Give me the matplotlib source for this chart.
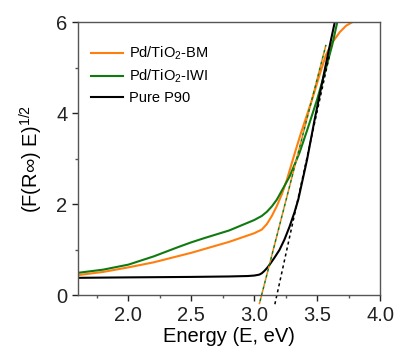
import numpy as np
import matplotlib
matplotlib.use("Agg")
import matplotlib.pyplot as plt
from matplotlib.ticker import MultipleLocator

plt.rcParams['font.family'] = ['Liberation Sans', 'DejaVu Sans']
plt.rcParams['mathtext.fontset'] = 'custom'
plt.rcParams['mathtext.rm'] = 'Liberation Sans'
plt.rcParams['mathtext.it'] = 'Liberation Sans:italic'

# Pd/TiO2-BM
e_bm = [1.6, 1.8, 2.0, 2.2, 2.4, 2.5, 2.6, 2.8, 3.0, 3.06, 3.1, 3.14, 3.18, 3.22, 3.26,
        3.32, 3.37, 3.46, 3.52, 3.57, 3.62, 3.68, 3.73, 3.78]
y_bm = [0.44, 0.51, 0.61, 0.72, 0.86, 0.93, 1.01, 1.17, 1.36, 1.44, 1.56, 1.74, 1.96, 2.22, 2.54,
        3.1, 3.55, 4.3, 4.85, 5.28, 5.55, 5.78, 5.92, 6.0]

# Pd/TiO2-IWI
e_iwi = [1.6, 1.8, 2.0, 2.2, 2.4, 2.5, 2.6, 2.8, 3.0, 3.06, 3.1, 3.14, 3.18, 3.22, 3.28,
         3.36, 3.42, 3.5, 3.56, 3.62, 3.66]
y_iwi = [0.49, 0.56, 0.67, 0.85, 1.06, 1.16, 1.25, 1.42, 1.65, 1.74, 1.83, 1.95, 2.1, 2.3, 2.6,
         3.13, 3.62, 4.3, 4.88, 5.5, 6.0]

# Pure P90
e_p90 = [1.6, 2.0, 2.5, 2.8, 2.95, 3.0, 3.04, 3.06, 3.08, 3.1, 3.12, 3.16, 3.2, 3.24,
         3.28, 3.32, 3.35, 3.42, 3.48, 3.52, 3.56, 3.6, 3.64]
y_p90 = [0.38, 0.39, 0.40, 0.41, 0.42, 0.43, 0.45, 0.48, 0.53, 0.59, 0.66, 0.82, 0.99, 1.22,
         1.5, 1.82, 2.1, 2.98, 3.86, 4.4, 4.95, 5.48, 6.0]

# tangent (Tauc) lines
tan_pd_x = [3.04, 3.57]
tan_pd_y = [-0.2, 5.5]
tan_p90_x = [3.164, 3.6]
tan_p90_y = [-0.2, 5.3]

fig = plt.figure(figsize=(3.98, 3.56), dpi=100)
ax = fig.add_axes([0.196, 0.171, 0.759, 0.767])

ax.plot(e_bm, y_bm, color='#ff7f0e', lw=1.5, label='Pd/TiO$_2$-BM')
ax.plot(e_iwi, y_iwi, color='#107a10', lw=1.5, label='Pd/TiO$_2$-IWI')
ax.plot(e_p90, y_p90, color='black', lw=1.5, label='Pure P90')

ax.plot(tan_pd_x, tan_pd_y, color='#ff7f0e', lw=1.1, ls=(0, (2, 2)), clip_on=False)
ax.plot(tan_pd_x, tan_pd_y, color='#107a10', lw=1.1, ls=(2, (2, 2)), clip_on=False)
ax.plot(tan_p90_x, tan_p90_y, color='black', lw=1.1, ls=(0, (2, 2)), clip_on=False)

ax.set_xlim(1.6, 4.0)
ax.set_ylim(0, 6)
ax.xaxis.set_major_locator(MultipleLocator(0.5))
ax.xaxis.set_minor_locator(MultipleLocator(0.25))
ax.yaxis.set_major_locator(MultipleLocator(2))
ax.yaxis.set_minor_locator(MultipleLocator(1))
ax.tick_params(which='major', direction='out', length=4, width=1, labelsize=14.5, colors='#222222')
ax.tick_params(which='minor', direction='out', length=2.5, width=1, colors='#555555')
for s in ax.spines.values():
    s.set_color('#555555')
    s.set_linewidth(1)

ax.set_xlabel('Energy (E, eV)', fontsize=14.5, labelpad=2)
ax.set_ylabel('(F(R∞) E)$^{1/2}$', fontsize=14.5, labelpad=8)

leg = ax.legend(loc='upper left', bbox_to_anchor=(0.0, 0.965), frameon=False, fontsize=10.5,
                handlelength=2.2, handletextpad=0.4, labelspacing=0.38)

fig.savefig('out.png', dpi=100)
